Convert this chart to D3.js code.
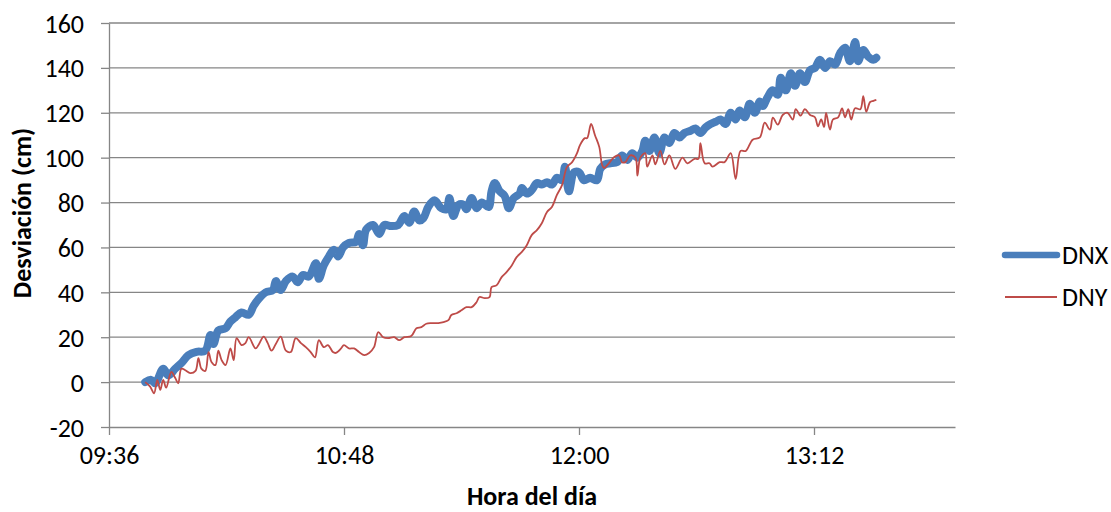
<!DOCTYPE html>
<html><head><meta charset="utf-8">
<script src="https://cdn.jsdelivr.net/npm/d3@7"></script>
<style>
body{margin:0;background:#fff;}
text{font-family:Carlito,Calibri,Lato,sans-serif;fill:#000;}
</style></head>
<body><svg id="c" width="1111" height="512"></svg>
<script>
// time in minutes since midnight
const dnxTime = [587.1,588.9,590.2,592.6,594.2,596.3,598.2,600.3,602.8,605.5,607.1,608.0,609.5,611.7,613.2,614.8,616.6,618.8,620.3,621.8,624.0,626.2,627.1,628.6,630.2,632.3,633.8,635.4,637.2,639.4,640.3,641.8,643.4,644.9,646.2,647.7,649.5,651.7,652.6,653.8,654.8,656.9,658.8,660.3,662.5,664.6,666.5,668.0,669.5,671.1,672.3,673.8,675.7,677.8,679.4,680.3,681.5,683.1,684.6,685.5,687.1,688.6,690.2,692.3,693.2,694.2,695.7,697.2,698.5,700.0,701.8,702.5,704.0,705.5,707.1,708.6,710.2,711.7,713.2,714.8,715.7,716.9,718.5,720.0,721.5,723.4,725.5,726.5,728.0,729.5,731.7,733.2,734.8,736.3,737.9,739.4,740.3,741.6,743.1,744.6,746.2,747.7,749.2,750.8,752.3,754.2,755.7,757.2,758.8,760.3,761.9,763.4,764.9,766.5,768.0,769.2,770.8,772.3,773.9,775.4,776.3,777.8,779.3,780.9,781.8,783.4,784.9,786.2,787.7,789.2,790.8,792.3,793.8,795.4,796.9,798.5,800.0,801.5,803.0,804.6,805.5,807.1,808.6,810.2,811.1];
const dnxVal = [0,1,-0.5,6,3,6,8.5,12,13.5,14,21,17,23,24,27,29,31,30,34,37,40,41,45,41,45,47,44.5,47.7,47,53,46,52,56,59,56,60,62,62.5,66,61,68,70,66,70,69.5,70,74,71,76,72,73,78,81,77.5,77,82,74,79,79,77,82,77.5,80,78,85,88.7,85,83,77.5,82,84,86.5,84,85.5,88.7,88,89,88,91,90,96,85,93.5,93.5,90,91,90,95,97,97.5,98,101,99,102,100,103,107.5,103,109,102,109,106.5,111,109,111,112,113,111,113.5,115,116,117,115,120,117,121,118,124,120,125,123,127,130,128,135.6,130,137.6,132,137.6,133.7,139,140,143.6,140,143,141.5,146.6,149,143,151.5,143,148,145,143.6,144.5];
const dnyTime = [587.1,588.6,589.8,590.8,591.7,592.6,593.5,595.1,596.3,597.2,598.2,599.4,600.9,602.5,603.4,604.3,605.5,606.5,607.4,608.6,609.5,610.5,611.7,613.2,614.2,615.1,616.6,617.8,618.8,620.9,621.8,623.4,624.6,625.8,627.1,628.6,630.2,631.7,633.2,634.8,636.3,637.8,639.1,640.3,641.8,643.1,644.6,645.5,647.1,648.0,649.5,651.1,652.6,654.2,655.7,657.2,658.5,660.0,661.5,663.4,664.9,666.5,668.6,670.2,671.7,673.2,674.8,676.9,678.5,680.0,680.9,682.5,684.0,685.5,687.1,688.6,689.5,691.1,692.6,693.2,694.8,696.3,697.8,699.4,700.9,702.5,704.0,705.5,707.1,708.6,710.2,711.7,713.2,714.8,716.3,717.9,719.4,720.3,721.8,722.5,723.7,724.9,726.2,727.1,727.7,729.2,730.8,732.3,733.2,734.2,735.7,737.3,737.9,738.8,740.3,740.9,742.5,743.4,744.9,746.2,747.7,749.5,751.7,753.2,755.4,756.6,757.2,758.5,760.0,760.9,763.1,764.6,766.5,768.0,769.5,771.1,773.2,775.4,776.9,778.5,779.4,780.9,782.4,783.9,785.5,786.4,787.9,789.2,790.8,792.3,793.2,794.2,795.1,795.7,796.9,797.8,799.4,800.6,801.5,802.5,803.4,804.6,806.2,807.1,808.0,809.2,810.2,811.1];
const dnyVal = [0,-2,-5,1,-3.5,1,-2.5,4.5,1.8,-0.5,6,5.3,4,5,10.7,6,5,13.4,9,7.6,14,9.8,7.6,15,9.8,19.6,16.5,17.4,20,15,16.5,20.3,17.5,14,17,20.3,14,13.4,19.6,17.4,15.6,13.4,11,18.7,15.6,16.5,13.4,13,15,16.5,15,15,13.4,12,13,15.6,22.3,20,19.6,20,18.7,20,20.5,24,24.5,26,26.3,26.3,26.7,27.6,29.9,30.7,32,33.4,33.4,35.6,37.9,37.4,37.9,42.3,43.2,46.8,49,52,55.7,58,61,65.5,67.7,70.8,75.8,78,83.3,87.8,95.8,98,102,105.6,108.7,108.7,115,110,104.8,96.7,95.4,97.6,100.3,101,98,98,101,100,92,100,102,96,101,97,103,97,101,95,100,97.5,99.5,99.5,106.5,97.5,97.5,96,98,98,102,90.5,103,103,108,109,115.6,112.5,117.8,114.7,119,120,117,121.6,118.7,121.6,119,118,114,117,113.7,120,112.5,117,118,122,118,121.6,117,122,121.6,127.4,120.5,124.8,125.3,125.7];
const xTicks = [576, 648, 720, 792];
const xTickLabels = ["09:36", "10:48", "12:00", "13:12"];
const yTicks = [-20, 0, 20, 40, 60, 80, 100, 120, 140, 160];
const seriesNames = ["DNX", "DNY"];
const seriesColors = ["#4A7EBB", "#BE4B48"];

const svg = d3.select("#c");
const L = 109, R = 955, T = 23, B = 427;
const FS = 26;
const x = d3.scaleLinear().domain([576, 835.2]).range([L, R]);
const y = d3.scaleLinear().domain([-20, 160]).range([B, T]);
const grid = "#868686";

// gridlines
svg.append("g").selectAll("line").data(yTicks.filter(d => d > -20)).join("line")
  .attr("x1", L).attr("x2", R).attr("y1", d => y(d)).attr("y2", d => y(d))
  .attr("stroke", grid).attr("stroke-width", 1.3);

// y axis
const ya = svg.append("g").attr("transform", `translate(${L},0)`)
  .call(d3.axisLeft(y).tickValues(yTicks).tickSize(8).tickSizeOuter(0).tickPadding(17).tickFormat(d => String(d)));
ya.select(".domain").attr("stroke", grid).attr("stroke-width", 1.3);
ya.selectAll(".tick line").attr("stroke", grid).attr("stroke-width", 1.3);
ya.selectAll("text").attr("font-size", FS).attr("dy", "0.35em");

// x axis
const xa = svg.append("g").attr("transform", `translate(0,${B})`)
  .call(d3.axisBottom(x).tickValues(xTicks).tickSize(8).tickSizeOuter(0).tickPadding(11)
    .tickFormat((d, i) => xTickLabels[i]));
xa.select(".domain").attr("stroke", grid).attr("stroke-width", 1.3);
xa.selectAll(".tick line").attr("stroke", grid).attr("stroke-width", 1.3);
xa.selectAll("text").attr("font-size", FS);

// titles
svg.append("text").attr("x", 532).attr("y", 505).attr("text-anchor", "middle")
  .attr("font-size", FS).attr("font-weight", "bold").text("Hora del día");
svg.append("text").attr("transform", "translate(31,213) rotate(-90)").attr("text-anchor", "middle")
  .attr("font-size", FS).attr("font-weight", "bold").text("Desviación (cm)");

// lines
const line = d3.line().x(d => x(d[0])).y(d => y(d[1])).curve(d3.curveCatmullRom.alpha(0.5));
const dnx = dnxTime.map((t, i) => [t, dnxVal[i]]);
const dny = dnyTime.map((t, i) => [t, dnyVal[i]]);
svg.append("path").datum(dnx).attr("d", line).attr("fill", "none")
  .attr("stroke", seriesColors[0]).attr("stroke-width", 8).attr("stroke-linejoin", "round").attr("stroke-linecap", "round");
svg.append("path").datum(dny).attr("d", line).attr("fill", "none")
  .attr("stroke", seriesColors[1]).attr("stroke-width", 1.8).attr("stroke-linejoin", "round");

// legend
const lg = svg.append("g");
const ly = [255, 297], lw = [6.5, 2];
seriesNames.forEach((n, i) => {
  lg.append("line").attr("x1", 1005).attr("x2", 1057).attr("y1", ly[i]).attr("y2", ly[i])
    .attr("stroke", seriesColors[i]).attr("stroke-width", lw[i]).attr("stroke-linecap", i === 0 ? "round" : "butt");
  lg.append("text").attr("x", 1062).attr("y", ly[i]).attr("dy", "0.35em").attr("font-size", FS).text(n);
});
</script></body></html>
